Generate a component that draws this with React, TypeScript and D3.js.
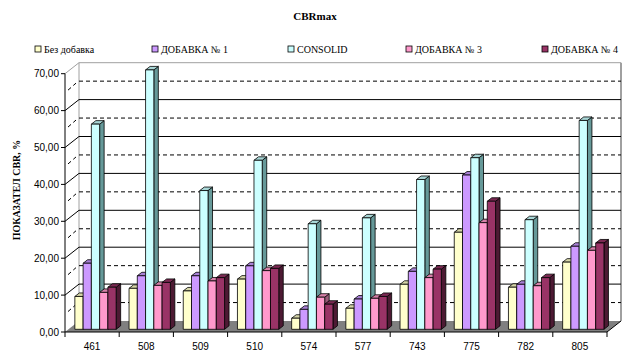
import * as d3 from "d3";

const categories = ["461", "508", "509", "510", "574", "577", "743", "775", "782", "805"];
const seriesNames = ["Без добавка", "ДОБАВКА № 1", "CONSOLID", "ДОБАВКА № 3", "ДОБАВКА № 4"];

const bezDobavka = [8.9, 11.1, 10.4, 13.6, 3.0, 5.7, 12.2, 26.3, 11.4, 18.2];
const dobavka1 = [17.9, 14.5, 14.5, 17.2, 5.4, 8.2, 15.7, 41.8, 12.2, 22.5];
const consolid = [55.6, 70.3, 37.6, 45.8, 28.6, 30.2, 40.6, 46.5, 29.7, 56.6];
const dobavka3 = [10.0, 11.9, 13.1, 15.9, 8.7, 8.4, 14.0, 28.9, 11.8, 21.4];
const dobavka4 = [11.4, 12.7, 14.0, 16.5, 6.8, 8.9, 16.3, 34.7, 14.0, 23.4];

const seriesValues = [bezDobavka, dobavka1, consolid, dobavka3, dobavka4];

// front / top / side colours per series
const fronts = ["#FFFFCC", "#CC99FF", "#CCFFFF", "#FF99CC", "#993366"];
const tops = ["#D6D6A8", "#A880D6", "#A8D6D6", "#D680A8", "#7A2952"];
const sides = ["#999970", "#7A5C99", "#669999", "#995C7A", "#4D1A33"];

const width = 634;
const height = 362;

const serif = "'Liberation Serif', 'Times New Roman', 'DejaVu Serif', serif";
const sans = "'Liberation Sans', Arial, sans-serif";

// 3d geometry
const left = 65;
const right = 607;
const floorY = 332;
const depthX = 14;
const depthY = -11;
const barOffX = 3.4;
const barOffY = -2.7;
const barDX = 4.5;
const barDY = -3.5;

const fmt = (v: number) => d3.format(".2f")(v).replace(".", ",");

export default function App() {
  const x = d3.scaleBand(categories, [left, right]);
  const y = d3.scaleLinear([0, 70], [floorY, floorY - 258.3]);
  const bw = x.bandwidth();
  const xs = d3.scaleBand(d3.range(seriesNames.length), [6.45, bw - 6.45]);
  const majors = d3.range(10, 70, 10);
  const minors = d3.range(5, 70, 10);
  const top = y(70);

  const bars: JSX.Element[] = [];
  categories.forEach((c, i) => {
    seriesValues.forEach((vals, j) => {
      const x0 = (x(c) as number) + (xs(j) as number) + barOffX;
      const w = xs.bandwidth();
      const y0 = y(0) + barOffY;
      const y1 = y(vals[i]) + barOffY;
      const side = `M${x0 + w},${y1}L${x0 + w + barDX},${y1 + barDY}L${x0 + w + barDX},${y0 + barDY}L${x0 + w},${y0}Z`;
      const tp = `M${x0},${y1}L${x0 + barDX},${y1 + barDY}L${x0 + w + barDX},${y1 + barDY}L${x0 + w},${y1}Z`;
      bars.push(
        <g key={`${c}-${j}`} stroke="#000" strokeWidth={0.8} strokeLinejoin="round">
          <path d={side} fill={sides[j]} />
          <path d={tp} fill={tops[j]} />
          <rect x={x0} y={y1} width={w} height={y0 - y1} fill={fronts[j]} />
        </g>
      );
    });
  });

  const legendX = [35, 152, 288, 406, 542];

  return (
    <svg width={width} height={height} style={{ position: "absolute", left: 0, top: 0, background: "#fff" }}>
      <text x={315} y={20} textAnchor="middle" fontFamily={serif} fontWeight="bold" fontSize={11}>
        CBRmax
      </text>

      {seriesNames.map((s, j) => (
        <g key={s}>
          <rect x={legendX[j]} y={46} width={6} height={6} fill={fronts[j]} stroke="#000" strokeWidth={0.8} />
          <text x={legendX[j] + 9} y={52.5} fontFamily={serif} fontSize={10}>
            {s}
          </text>
        </g>
      ))}

      {/* floor */}
      <path
        d={`M${left},${floorY}L${right},${floorY}L${right + depthX},${floorY + depthY}L${left + depthX},${floorY + depthY}Z`}
        fill="#808080"
      />

      {/* back and side walls */}
      <g fill="none" stroke="#A0A0A0" strokeWidth={1}>
        <path d={`M${left},${top}L${left + depthX},${top + depthY}L${right + depthX},${top + depthY}`} />
        <path d={`M${left + depthX},${top + depthY}L${left + depthX},${floorY + depthY}`} />
        <path d={`M${right + depthX},${top + depthY}L${right + depthX},${floorY + depthY}`} strokeWidth={2} />
      </g>

      {majors.map((v) => (
        <g key={`M${v}`} stroke="#000" strokeWidth={1} fill="none">
          <path d={`M${left},${y(v)}L${left + depthX},${y(v) + depthY}L${right + depthX},${y(v) + depthY}`} />
        </g>
      ))}
      {minors.map((v) => (
        <g key={`m${v}`} stroke="#000" strokeWidth={1} fill="none" strokeDasharray="4,3">
          <path d={`M${left + 3},${y(v) - 2}L${left + depthX - 3},${y(v) + depthY + 2}`} />
          <path d={`M${left + depthX},${y(v) + depthY}L${right + depthX},${y(v) + depthY}`} />
        </g>
      ))}

      {bars}

      {/* value axis */}
      <g fontFamily={sans} fontSize={10}>
        <line x1={left} x2={left} y1={top} y2={floorY} stroke="#000" />
        {y.ticks(7).map((v) => (
          <g key={v}>
            <line x1={left - 4} x2={left} y1={y(v)} y2={y(v)} stroke="#000" />
            <text x={59} y={y(v)} dy="0.35em" textAnchor="end">
              {fmt(v)}
            </text>
          </g>
        ))}
      </g>

      {/* category axis */}
      <g fontFamily={sans} fontSize={10}>
        <line x1={left} x2={right} y1={floorY} y2={floorY} stroke="#000" />
        <line x1={right} x2={right + depthX} y1={floorY} y2={floorY + depthY} stroke="#000" />
        {categories.map((c) => (
          <line key={`t${c}`} x1={x(c)} x2={x(c)} y1={floorY} y2={floorY + 5} stroke="#000" />
        ))}
        <line x1={right} x2={right} y1={floorY} y2={floorY + 5} stroke="#000" />
        {categories.map((c) => (
          <text key={c} x={(x(c) as number) + bw / 2} y={349.5} textAnchor="middle">
            {c}
          </text>
        ))}
      </g>

      <text
        transform={`translate(16,190) rotate(-90)`}
        textAnchor="middle"
        dy="0.35em"
        fontFamily={serif}
        fontWeight="bold"
        fontSize={10}
      >
        ПОКАЗАТЕЛ CBR, %
      </text>
    </svg>
  );
}
